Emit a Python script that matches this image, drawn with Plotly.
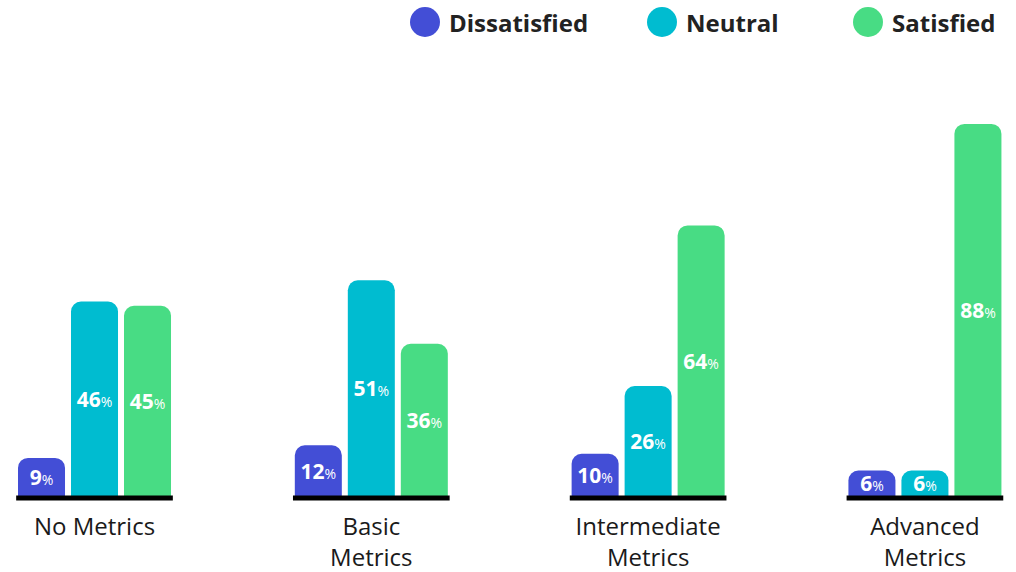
import plotly.graph_objects as go

categories = ["No Metrics", "Basic<br>Metrics", "Intermediate<br>Metrics", "Advanced<br>Metrics"]
series_names = ["Dissatisfied", "Neutral", "Satisfied"]
dissatisfied = [9, 12, 10, 6]
neutral = [46, 51, 26, 6]
satisfied = [45, 36, 64, 88]
colors = ["#434ED6", "#00BCD0", "#48DC84"]
legend_x = [425, 662, 868]

FONT = "Open Sans"
series = [dissatisfied, neutral, satisfied]
fig = go.Figure()
for name, vals, col in zip(series_names, series, colors):
    fig.add_trace(go.Bar(
        name=name,
        x=categories,
        y=vals,
        marker=dict(color=col, line=dict(width=0)),
        text=[f"<b>{v}</b><span style='font-size:14px'>%</span>" for v in vals],
        textposition="inside",
        insidetextanchor="middle",
        textangle=0,
        constraintext="none",
        textfont=dict(family=FONT, size=21, color="white"),
        showlegend=False,
        hoverinfo="skip",
    ))

shapes = []
for i in range(len(categories)):
    shapes.append(dict(type="line", xref="x", yref="y", x0=i - 0.283, x1=i + 0.283,
                       y0=-0.5, y1=-0.5, line=dict(color="black", width=5), layer="above"))

PH = 502  # plot height in px
annotations = []
for name, col, cx in zip(series_names, colors, legend_x):
    shapes.append(dict(type="circle", xref="paper", yref="paper",
                       x0=(cx - 15) / 1016, x1=(cx + 15) / 1016,
                       y0=1 - 37 / PH, y1=1 - 7 / PH,
                       fillcolor=col, line=dict(width=0)))
    annotations.append(dict(xref="paper", yref="paper", x=(cx + 22) / 1016, y=1 - 23 / PH,
                            xanchor="left", yanchor="middle", showarrow=False,
                            text=f"<b>{name}</b>",
                            font=dict(family=FONT, size=24, color="#222222")))

fig.update_layout(
    width=1016, height=572,
    margin=dict(l=0, r=0, t=0, b=70),
    paper_bgcolor="white", plot_bgcolor="white",
    barmode="group",
    bargap=0.4256,
    bargroupgap=0.113,
    barcornerradius=10,
    uniformtext=dict(mode="show", minsize=21),
    shapes=shapes,
    annotations=annotations,
    xaxis=dict(range=[-0.3414, 3.329], showgrid=False, zeroline=False, showline=False,
               ticks="", ticklabelstandoff=8, automargin=False,
               tickfont=dict(family=FONT, size=24, color="#1a1a1a")),
    yaxis=dict(range=[-1.42, 117.3], visible=False, showgrid=False, zeroline=False,
               automargin=False),
)

fig.write_html("out.html")
